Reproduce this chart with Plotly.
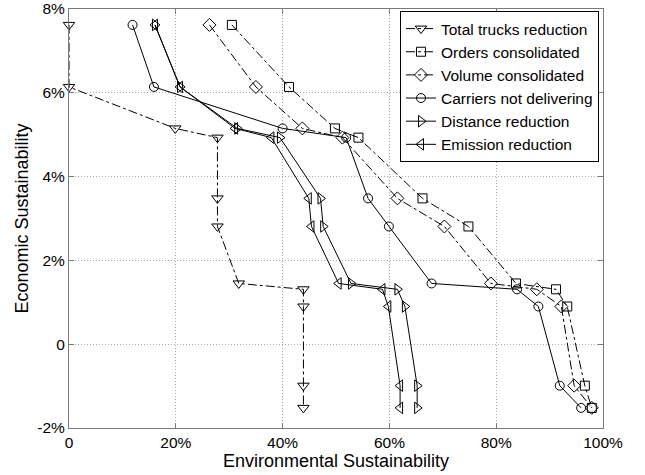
import plotly.graph_objects as go

# Economic sustainability levels (%) shared by all scenarios
econ = [7.62, 6.14, 5.15, 4.93, 3.48, 2.81, 1.45, 1.31, 0.90, -0.99, -1.52]

total_trucks = [0.0, 0.0, 19.9, 27.8, 27.8, 27.8, 31.8, 43.9, 43.9, 43.9, 43.9]
orders_cons = [30.5, 41.2, 49.8, 54.2, 66.2, 74.8, 83.7, 91.2, 93.3, 96.6, 97.9]
volume_cons = [26.3, 35.0, 43.7, 51.2, 61.5, 70.3, 79.0, 87.6, 92.2, 94.6, 97.9]
carriers_nd = [11.9, 15.9, 40.0, 51.9, 56.0, 59.9, 67.9, 83.9, 87.9, 91.9, 95.9]
distance_red = [16.1, 20.8, 31.5, 39.5, 47.1, 47.6, 52.8, 61.5, 62.9, 65.2, 65.2]
emission_red = [16.1, 20.8, 31.1, 37.9, 44.9, 45.4, 50.5, 58.7, 59.8, 62.0, 62.0]

names = ["Total trucks reduction", "Orders consolidated", "Volume consolidated",
         "Carriers not delivering", "Distance reduction", "Emission reduction"]
series = [total_trucks, orders_cons, volume_cons, carriers_nd, distance_red, emission_red]
symbols = ["triangle-down-open", "square-open", "diamond-open", "circle-open",
           "triangle-right-open", "triangle-left-open"]
sizes = [10, 9, 10, 9, 10, 10]
dashes = ["dashdot", "dashdot", "dashdot", "solid", "solid", "solid"]

x_ticks = [0, 20, 40, 60, 80, 100]
x_labels = ["0", "20%", "40%", "60%", "80%", "100%"]
y_ticks = [-2, 0, 2, 4, 6, 8]
y_labels = ["-2%", "0", "2%", "4%", "6%", "8%"]

fig = go.Figure()
for name, xs, sym, sz, dash in zip(names, series, symbols, sizes, dashes):
    fig.add_trace(go.Scatter(
        x=xs, y=econ, name=name, mode="lines+markers",
        line=dict(color="black", width=1, dash=dash),
        marker=dict(symbol=sym, size=sz, color="black", line=dict(color="black", width=1)),
        cliponaxis=False,
    ))

font = "Liberation Sans, Arial, sans-serif"
axis_common = dict(
    showgrid=True, gridcolor="#a8a8a8", griddash="1px,2px", gridwidth=1,
    showline=True, linecolor="#7a7a7a", linewidth=1, mirror="ticks",
    ticks="inside", ticklen=5, tickcolor="#7a7a7a",
    zeroline=False, automargin=False, ticklabeloverflow="allow",
    tickfont=dict(size=15.5, color="black", family=font),
)

fig.update_layout(
    width=645, height=475,
    margin=dict(l=69, r=42, t=9, b=47),
    plot_bgcolor="white", paper_bgcolor="white",
    font=dict(family=font, color="black", size=15),
    showlegend=True,
    legend=dict(x=0.9925, y=0.9952, xanchor="right", yanchor="top",
                bordercolor="black", borderwidth=1, bgcolor="white",
                font=dict(size=15.5, family=font), tracegroupgap=0, itemwidth=30),
    xaxis=dict(range=[0, 100], tickvals=x_ticks, ticktext=x_labels,
               title=dict(text="Environmental Sustainability", font=dict(size=18), standoff=0),
               **axis_common),
    yaxis=dict(range=[-2, 8], tickvals=y_ticks, ticktext=y_labels,
               title=dict(text="Economic Sustainability", font=dict(size=18), standoff=4),
               **axis_common),
)

fig.write_html("out.html", config={"displayModeBar": False},
               post_script="document.body.style.margin='0';document.body.style.overflow='hidden';")
